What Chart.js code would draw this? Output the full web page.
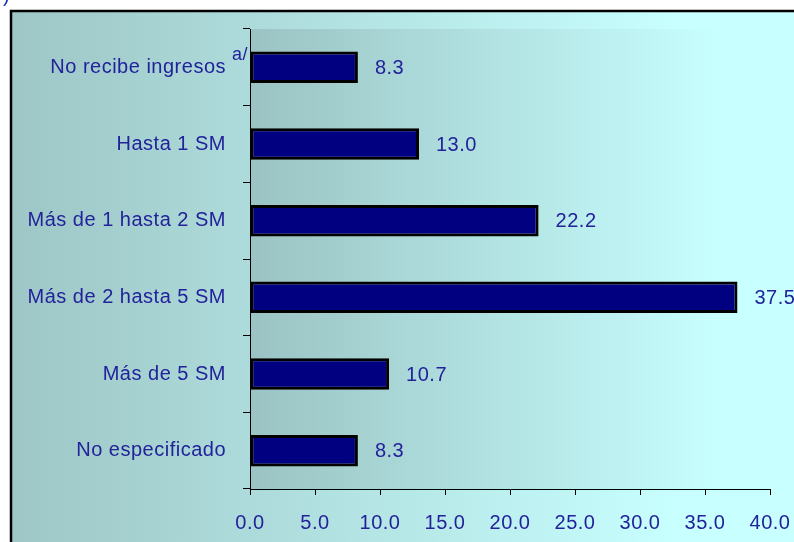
<!DOCTYPE html>
<html>
<head>
<meta charset="utf-8">
<script src="https://cdn.jsdelivr.net/npm/chart.js@4/dist/chart.umd.min.js"></script>
<style>
    html, body { margin: 0; padding: 0; background: #fff; }
    canvas { display: block; }
</style>
</head>
<body>
<canvas id="ingresos" width="794" height="542"></canvas>
<script>
"use strict";

const categories = [
    "No recibe ingresos",
    "Hasta 1 SM",
    "Más de 1 hasta 2 SM",
    "Más de 2 hasta 5 SM",
    "Más de 5 SM",
    "No especificado",
];
const values = [8.3, 13.0, 22.2, 37.5, 10.7, 8.3];
const xTicks = [0, 5, 10, 15, 20, 25, 30, 35, 40];
const footnoteMark = "a/";

const textBlue = "#22229a";
const fontFamily = "'Liberation Sans', Arial, sans-serif";

// --- backgrounds, frame, and the stray title glyph
const backdrop = {
    id: "backdrop",
    beforeDraw(chart) {
        const { ctx, width, height, chartArea } = chart;
        ctx.save();
        ctx.fillStyle = "#fff";
        ctx.fillRect(0, 0, width, height);

        const outer = ctx.createLinearGradient(10, 0, 680, 0);
        outer.addColorStop(0, "#9ec6c6");
        outer.addColorStop(1, "#c8ffff");
        ctx.fillStyle = outer;
        ctx.fillRect(10, 10, width - 10, height - 10);

        const inner = ctx.createLinearGradient(chartArea.left, 0, 720, 0);
        inner.addColorStop(0, "#9bc3c3");
        inner.addColorStop(1, "#c8ffff");
        ctx.fillStyle = inner;
        ctx.fillRect(chartArea.left, chartArea.top, width - chartArea.left, chartArea.bottom - chartArea.top);

        ctx.strokeStyle = "#000";
        ctx.lineWidth = 2.5;
        ctx.beginPath();
        ctx.moveTo(11, height);
        ctx.lineTo(11, 11);
        ctx.lineTo(width, 11);
        ctx.stroke();

        ctx.fillStyle = "#2030b0";
        ctx.font = "20px " + fontFamily;
        ctx.textBaseline = "alphabetic";
        ctx.fillText(")", 3, 2);
        ctx.restore();
        ctx.letterSpacing = "0.5px";
    },
};

// --- value labels next to each bar, plus the footnote mark
const barLabels = {
    id: "barLabels",
    afterDatasetsDraw(chart) {
        const { ctx } = chart;
        const meta = chart.getDatasetMeta(0);
        ctx.save();
        ctx.fillStyle = textBlue;
        ctx.font = "20px " + fontFamily;
        ctx.textAlign = "left";
        ctx.textBaseline = "middle";
        meta.data.forEach((bar, i) => {
            ctx.fillText(values[i].toFixed(1), bar.x + 17, bar.y + 1);
        });

        ctx.font = "18px " + fontFamily;
        ctx.textAlign = "right";
        ctx.textBaseline = "alphabetic";
        ctx.fillText(footnoteMark, 248, 60);
        ctx.restore();
    },
};

const canvas = document.getElementById("ingresos");
new Chart(canvas.getContext("2d"), {
    type: "bar",
    data: {
        labels: categories,
        datasets: [
            {
                data: values,
                backgroundColor: "#000080",
                borderColor: "#000",
                borderWidth: 3,
                borderSkipped: false,
                barPercentage: 0.41,
                categoryPercentage: 1,
            },
        ],
    },
    options: {
        indexAxis: "y",
        responsive: false,
        animation: false,
        devicePixelRatio: 1,
        layout: { padding: { left: 0, top: 29, right: 24, bottom: 0 } },
        plugins: {
            legend: { display: false },
            tooltip: { enabled: false },
        },
        scales: {
            y: {
                offset: true,
                grid: {
                    offset: true,
                    drawOnChartArea: false,
                    drawTicks: true,
                    tickLength: 7,
                    color: "#000",
                },
                border: { display: true, color: "#000", width: 1 },
                ticks: {
                    color: textBlue,
                    font: { size: 20, family: fontFamily },
                    padding: 17,
                },
                afterFit(scale) {
                    scale.width = 250;
                    scale.paddingTop = 0;
                    scale.paddingBottom = 0;
                },
            },
            x: {
                min: xTicks[0],
                max: xTicks[xTicks.length - 1],
                afterBuildTicks(scale) {
                    scale.ticks = xTicks.map((v) => ({ value: v }));
                },
                grid: {
                    drawOnChartArea: false,
                    drawTicks: true,
                    tickLength: 6,
                    color: "#000",
                },
                border: { display: true, color: "#000", width: 1 },
                ticks: {
                    color: textBlue,
                    font: { size: 20, family: fontFamily },
                    padding: 16,
                    maxRotation: 0,
                    callback: (v) => Number(v).toFixed(1),
                },
                afterFit(scale) {
                    scale.height = 53;
                    scale.paddingLeft = 0;
                    scale.paddingRight = 0;
                },
            },
        },
    },
    plugins: [backdrop, barLabels],
});
</script>
</body>
</html>
